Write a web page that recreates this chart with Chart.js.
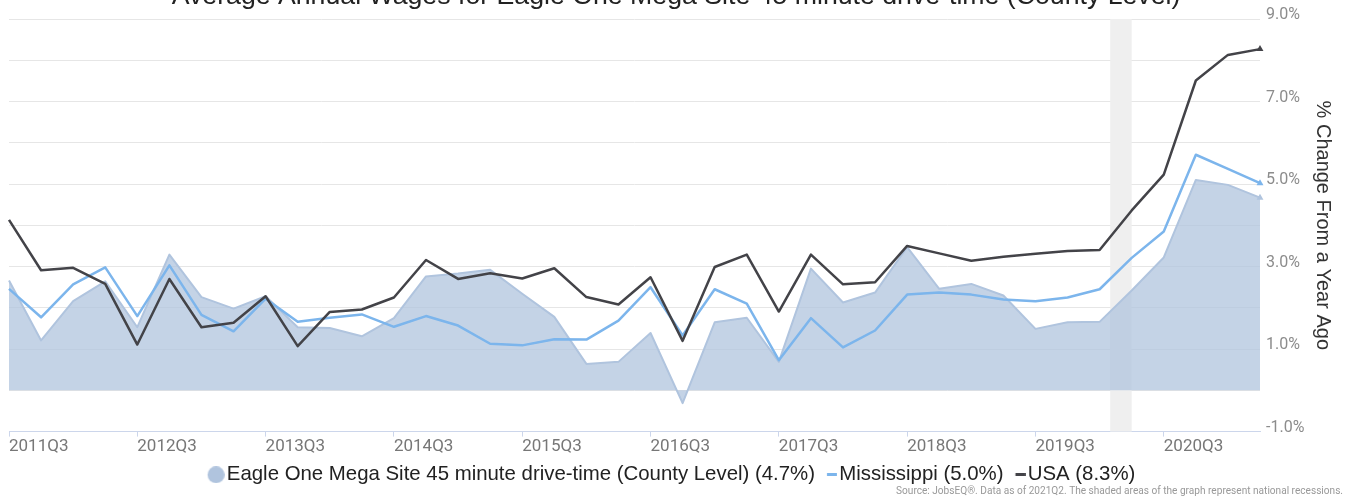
<!DOCTYPE html>
<html>
<head>
<meta charset="utf-8">
<title>Average Annual Wages</title>
<script src="https://cdn.jsdelivr.net/npm/chart.js@4.4.1/dist/chart.umd.min.js"></script>
<style>
  html, body { margin: 0; padding: 0; background: #fff; }
  #wrap { width: 1349px; height: 501px; }
</style>
</head>
<body>
<div id="wrap"><canvas id="wagesChart" width="1349" height="501"></canvas></div>
<script>
// quarters shown on the x axis (every 4th one gets a label)
const quarters = [
    '2011Q3', '2011Q4', '2012Q1', '2012Q2', '2012Q3', '2012Q4', '2013Q1', '2013Q2',
    '2013Q3', '2013Q4', '2014Q1', '2014Q2', '2014Q3', '2014Q4', '2015Q1', '2015Q2',
    '2015Q3', '2015Q4', '2016Q1', '2016Q2', '2016Q3', '2016Q4', '2017Q1', '2017Q2',
    '2017Q3', '2017Q4', '2018Q1', '2018Q2', '2018Q3', '2018Q4', '2019Q1', '2019Q2',
    '2019Q3', '2019Q4', '2020Q1', '2020Q2', '2020Q3', '2020Q4', '2021Q1', '2021Q2'
];

// % change from a year ago
const eagleOne = [
    2.66, 1.21, 2.16, 2.64, 1.53, 3.29, 2.26, 1.98, 2.28, 1.53,
    1.51, 1.31, 1.75, 2.76, 2.83, 2.92, 2.34, 1.78, 0.64, 0.69,
    1.39, -0.31, 1.65, 1.76, 0.69, 2.95, 2.13, 2.37, 3.47, 2.46,
    2.58, 2.30, 1.49, 1.65, 1.66, 2.42, 3.22, 5.10, 4.98, 4.67
];
const mississippi = [
    2.46, 1.77, 2.57, 2.98, 1.80, 3.03, 1.83, 1.43, 2.22, 1.66,
    1.76, 1.84, 1.54, 1.80, 1.57, 1.13, 1.09, 1.24, 1.23, 1.69,
    2.50, 1.33, 2.45, 2.10, 0.73, 1.75, 1.04, 1.45, 2.32, 2.37,
    2.32, 2.20, 2.16, 2.25, 2.45, 3.21, 3.85, 5.71, 5.37, 5.02
];
const usa = [
    4.13, 2.91, 2.97, 2.58, 1.11, 2.70, 1.53, 1.64, 2.28, 1.07,
    1.90, 1.96, 2.25, 3.16, 2.70, 2.84, 2.71, 2.96, 2.26, 2.08,
    2.74, 1.20, 2.99, 3.29, 1.91, 3.29, 2.57, 2.62, 3.50, 3.32,
    3.14, 3.24, 3.31, 3.38, 3.40, 4.36, 5.23, 7.51, 8.13, 8.27
];

const seriesNames = ['Eagle One Mega Site 45 minute drive-time (County Level)', 'Mississippi', 'USA'];

// national recession (Feb 2020 - Apr 2020), as fractional quarter index
const recessions = [[34.33, 35]];

const yTicks = { min: -1, max: 9, step: 1 };

const chartTitle = 'Average Annual Wages for Eagle One Mega Site 45 minute drive-time (County Level)';
const sourceNote = 'Source: JobsEQ\u00ae. Data as of 2021Q2. The shaded areas of the graph represent national recessions.';

const areaColor = '#b0c4de';
const msColor = '#7cb5ec';
const usaColor = '#434348';

// small canvases used as legend swatches (shape drawn at the right edge so it sits next to the text)
function makeSwatch(kind, color) {
    const c = document.createElement('canvas');
    c.width = 26;
    c.height = kind === 'circle' ? 17 : 3;
    const g = c.getContext('2d');
    g.fillStyle = color;
    if (kind === 'circle') {
        g.beginPath();
        g.arc(17.4, 8.5, 8.5, 0, Math.PI * 2);
        g.fill();
    } else {
        g.fillRect(15.9, 0, 10, 3);
    }
    return c;
}

const swatches = [
    makeSwatch('circle', areaColor),
    makeSwatch('line', msColor),
    makeSwatch('line', usaColor)
];

function lastPointOnly(ctx) {
    return ctx.dataIndex === quarters.length - 1 ? 4 : 0;
}

const recessionBand = {
    id: 'recessionBand',
    beforeDatasetsDraw(chart) {
        const { ctx, chartArea, scales } = chart;
        ctx.save();
        ctx.fillStyle = '#efefef';
        recessions.forEach(([start, end]) => {
            const x0 = scales.x.getPixelForValue(start);
            const x1 = scales.x.getPixelForValue(end);
            ctx.fillRect(x0, chartArea.top, x1 - x0, chartArea.bottom - chartArea.top);
        });
        ctx.restore();
    }
};

// legend box starts after the left padding, nudge it so it is centred like the original
const legendNudge = {
    id: 'legendNudge',
    afterLayout(chart) {
        if (chart.legend) {
            chart.legend.left -= 8;
            chart.legend.right -= 8;
        }
    }
};

const headerFooter = {
    id: 'headerFooter',
    afterDraw(chart) {
        const ctx = chart.ctx;
        ctx.save();
        ctx.fillStyle = '#222';
        ctx.font = '26.7px "Liberation Sans", Arial, sans-serif';
        ctx.textAlign = 'center';
        ctx.textBaseline = 'alphabetic';
        ctx.fillText(chartTitle, 676, 4);

        ctx.fillStyle = '#999';
        ctx.font = '10.1px Roboto, sans-serif';
        ctx.textAlign = 'right';
        ctx.textBaseline = 'middle';
        ctx.fillText(sourceNote, 1343, 491);
        ctx.restore();
    }
};

const ctx = document.getElementById('wagesChart').getContext('2d');

const wagesChart = new Chart(ctx, {
    type: 'line',
    data: {
        labels: quarters,
        datasets: [{
            label: seriesNames[0],
            data: eagleOne,
            fill: 'origin',
            backgroundColor: 'rgba(176, 196, 222, 0.75)',
            borderColor: areaColor,
            borderWidth: 2,
            pointStyle: 'triangle',
            pointRadius: lastPointOnly,
            pointBackgroundColor: areaColor,
            pointBorderWidth: 0,
            order: 3
        }, {
            label: seriesNames[1],
            data: mississippi,
            fill: false,
            borderColor: msColor,
            borderWidth: 2.5,
            pointStyle: 'triangle',
            pointRadius: lastPointOnly,
            pointBackgroundColor: msColor,
            pointBorderWidth: 0,
            order: 2
        }, {
            label: seriesNames[2],
            data: usa,
            fill: false,
            borderColor: usaColor,
            borderWidth: 2.5,
            pointStyle: 'triangle',
            pointRadius: lastPointOnly,
            pointBackgroundColor: usaColor,
            pointBorderWidth: 0,
            order: 1
        }]
    },
    options: {
        responsive: false,
        animation: false,
        devicePixelRatio: 1,
        tension: 0,
        borderJoinStyle: 'round',
        layout: {
            padding: { top: 19, left: 9, right: 0, bottom: 6 }
        },
        scales: {
            x: {
                type: 'category',
                offset: false,
                border: { color: '#ccd6eb', width: 1 },
                grid: {
                    drawOnChartArea: false,
                    drawTicks: true,
                    tickLength: 5,
                    color: (c) => (c.index % 4 === 0 ? '#ccd6eb' : 'rgba(0,0,0,0)')
                },
                ticks: {
                    autoSkip: false,
                    maxRotation: 0,
                    minRotation: 0,
                    align: 'start',
                    padding: 0,
                    color: '#777',
                    font: { family: 'Roboto', size: 17 },
                    callback: function (value, index) {
                        return index % 4 === 0 ? this.getLabelForValue(value) : '';
                    }
                },
                afterFit: (scale) => { scale.height = 29; }
            },
            y: {
                position: 'right',
                min: yTicks.min,
                max: yTicks.max,
                border: { display: false },
                grid: { color: '#e6e6e6', drawTicks: false },
                ticks: {
                    stepSize: yTicks.step,
                    padding: 6,
                    labelOffset: -4,
                    color: '#8c8c8c',
                    font: { family: 'Roboto', size: 16 },
                    callback: (v) => (Math.round(v) % 2 !== 0 ? v.toFixed(1) + '%' : '')
                },
                title: {
                    display: true,
                    text: '% Change From a Year Ago',
                    color: '#333',
                    font: { family: 'Liberation Sans', size: 20 },
                    padding: { top: 14, bottom: 0 }
                },
                afterFit: (scale) => { scale.width = 89; }
            }
        },
        plugins: {
            legend: {
                position: 'bottom',
                labels: {
                    usePointStyle: true,
                    boxWidth: 10,
                    padding: 4,
                    color: '#222',
                    font: { family: 'Liberation Sans', size: 20.4 },
                    generateLabels: (chart) => chart.data.datasets.map((ds, i) => ({
                        text: ds.label + ' (' + ds.data[ds.data.length - 1].toFixed(1) + '%)',
                        pointStyle: swatches[i],
                        fillStyle: ds.borderColor,
                        strokeStyle: ds.borderColor,
                        lineWidth: 0,
                        fontColor: '#222',
                        hidden: !chart.isDatasetVisible(i),
                        datasetIndex: i
                    }))
                }
            },
            tooltip: { mode: 'index', intersect: false }
        }
    },
    plugins: [recessionBand, legendNudge, headerFooter]
});
</script>
</body>
</html>
